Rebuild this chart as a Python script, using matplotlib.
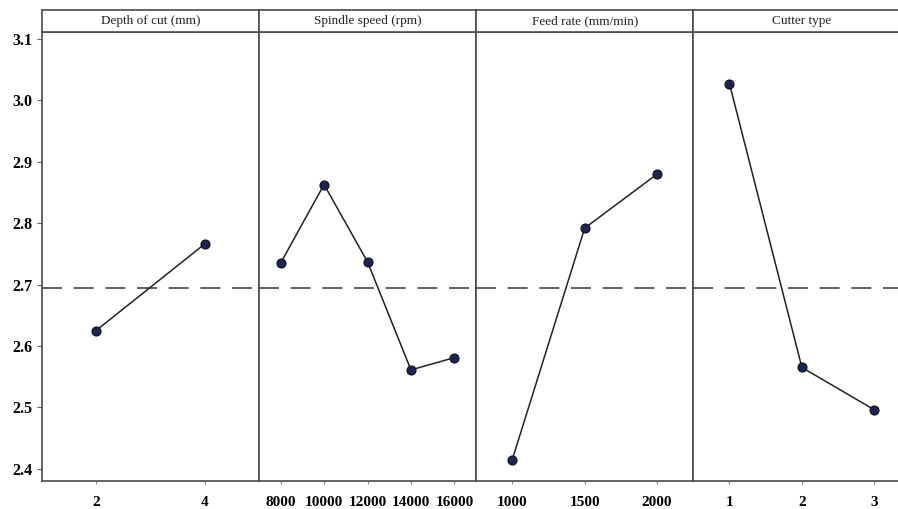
import matplotlib
matplotlib.use("Agg")
import matplotlib.pyplot as plt

# ---- data ----
factors = ["Depth of cut (mm)", "Spindle speed (rpm)", "Feed rate (mm/min)", "Cutter type"]
depth_levels = ["2", "4"]
depth_means = [2.625, 2.766]
spindle_levels = ["8000", "10000", "12000", "14000", "16000"]
spindle_means = [2.735, 2.863, 2.737, 2.561, 2.581]
feed_levels = ["1000", "1500", "2000"]
feed_means = [2.415, 2.792, 2.880]
cutter_levels = ["1", "2", "3"]
cutter_means = [3.027, 2.565, 2.496]
grand_mean = 2.695
y_ticks = [2.4, 2.5, 2.6, 2.7, 2.8, 2.9, 3.0, 3.1]

levels = [depth_levels, spindle_levels, feed_levels, cutter_levels]
means = [depth_means, spindle_means, feed_means, cutter_means]

W, H = 898, 509
fig = plt.figure(figsize=(W / 100, H / 100), dpi=100)

serif = ["Liberation Serif", "DejaVu Serif"]
spine_col = "#4a4a4a"

left0 = 41.7
pw = 217.2
ax_top = 32.3
ax_bot = 481
hdr_top = 10

for i, (name, lv, mv) in enumerate(zip(factors, levels, means)):
    x0 = left0 + i * pw
    ax = fig.add_axes([x0 / W, (H - ax_bot) / H, pw / W, (ax_bot - ax_top) / H])
    xs = list(range(1, len(lv) + 1))
    ax.axhline(grand_mean, color="#444444", lw=1.2, dashes=(12, 7), zorder=1)
    ax.plot(xs, mv, color="#222222", lw=1.1, zorder=2)
    ax.plot(xs, mv, "o", color="#1b2458", mec="#111111", mew=0.8, ms=6.5, zorder=3)
    ax.set_xlim(0.5, len(lv) + 0.5)
    ax.set_ylim(2.380, 3.111)
    ax.set_xticks(xs)
    ax.set_xticklabels(lv, fontfamily=serif, fontweight="bold", fontsize=11)
    ax.tick_params(axis="x", length=2.5, width=0.8, color="#888888", pad=8)
    if i == 0:
        ax.set_yticks(y_ticks)
        ax.set_yticklabels([f"{v:.1f}" for v in y_ticks], fontfamily=serif,
                           fontweight="bold", fontsize=11.5)
        ax.tick_params(axis="y", length=3.5, width=0.8, color="#666666", pad=3)
    else:
        ax.set_yticks([])
    for s in ax.spines.values():
        s.set_color(spine_col)
        s.set_linewidth(1.2)

    hx = fig.add_axes([x0 / W, (H - ax_top) / H, pw / W, (ax_top - hdr_top) / H])
    hx.set_xticks([])
    hx.set_yticks([])
    for s in hx.spines.values():
        s.set_color(spine_col)
        s.set_linewidth(1.2)
    hx.text(0.5, 0.5, name, ha="center", va="center", fontfamily=serif,
            fontsize=9.5, color="#222222", transform=hx.transAxes)

fig.savefig("out.png", dpi=100)
